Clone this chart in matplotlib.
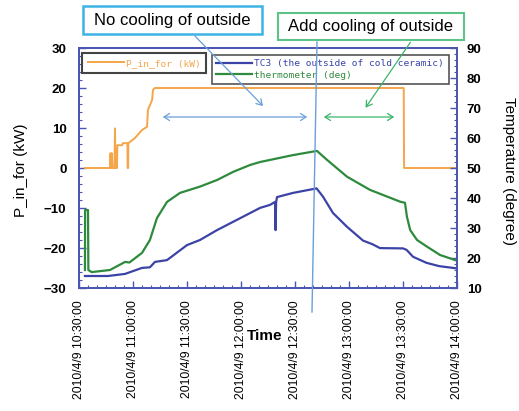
import matplotlib
matplotlib.use("Agg")
import matplotlib.pyplot as plt
import matplotlib.dates as mdates
from matplotlib.lines import Line2D
from matplotlib.patches import FancyArrowPatch, Rectangle
from matplotlib.ticker import MultipleLocator
from matplotlib.font_manager import FontProperties
import pandas as pd

# ---------------- data (minutes after 2010/4/9 10:30:00) ----------------
base_time = "2010-04-09 10:30:00"

p_min = [3.3, 17.2, 17.5, 17.8, 18.2, 18.6, 19.7, 20.0, 20.3, 20.8, 21.1, 21.3,
         24.0, 24.3, 26.9, 27.0, 27.3, 27.4, 31.1, 35.0, 37.8, 38.3, 40.6, 41.1,
         42.2, 180.4, 180.6, 209.0]
p_kw = [0, 0, 3.7, 0, 3.7, 0, 0, 9.9, 0, 3.0, 0, 5.7,
        5.7, 6.2, 6.2, 0, 0, 6.2, 7.5, 9.5, 10.3, 14.5, 17.0, 19.5,
        20.0, 20.0, 0, 0]

tc3_min = [3.3, 16.1, 25.6, 35.0, 39.4, 42.2, 48.9, 60.0, 67.2, 76.7, 100.6,
           106.1, 108.9, 109.2, 109.5, 110.0, 118.9, 132.0, 135.6, 141.1,
           148.9, 157.8, 163.0, 167.2, 180.0, 182.0, 185.6, 193.0, 200.0, 209.0]
tc3_deg = [14.0, 14.0, 14.7, 16.7, 16.9, 18.7, 19.3, 24.3, 26.0, 29.3, 36.7,
           37.7, 38.7, 29.3, 38.5, 40.3, 41.7, 43.2, 40.4, 35.0,
           30.4, 25.8, 24.6, 23.3, 23.2, 22.7, 20.4, 18.4, 17.3, 16.6]

thermo_min = [3.3, 3.4, 5.0, 5.2, 7.0, 17.2, 25.6, 28.0, 35.0, 39.4, 43.3,
              48.9, 56.1, 67.2, 76.7, 85.6, 95.0, 100.6, 118.9, 132.2, 137.8,
              148.9, 161.7, 178.3, 181.1, 182.2, 184.0, 187.8, 193.3, 200.6,
              209.0]
thermo_deg = [16.0, 36.0, 36.0, 16.0, 15.3, 16.0, 18.7, 18.5, 21.7, 26.0, 33.3,
              38.7, 41.7, 43.8, 46.0, 48.7, 51.0, 52.0, 54.3, 55.7, 52.7,
              47.1, 42.7, 38.8, 38.4, 33.7, 29.3, 26.0, 23.8, 21.0,
              19.3]

tick_labels = ["2010/4/9 10:30:00", "2010/4/9 11:00:00", "2010/4/9 11:30:00",
               "2010/4/9 12:00:00", "2010/4/9 12:30:00", "2010/4/9 13:00:00",
               "2010/4/9 13:30:00", "2010/4/9 14:00:00"]
tick_times = ["2010-04-09 10:30", "2010-04-09 11:00", "2010-04-09 11:30",
              "2010-04-09 12:00", "2010-04-09 12:30", "2010-04-09 13:00",
              "2010-04-09 13:30", "2010-04-09 14:00"]

legend_p = "P_in_for (kW)"
legend_tc3 = "TC3 (the outside of cold ceramic)"
legend_thermo = "thermometer (deg)"

# ---------------- style ----------------
W, H = 519, 411
def fx(x): return x / W
def fy(y): return 1 - y / H

c_orange = "#f5a54a"
c_blue = "#3b44a6"
c_green = "#2e8a3c"
c_spine = "#4a56b0"
c_callblue = "#6a9fd8"
c_callgreen = "#3cb46a"

plt.rcParams["font.family"] = ["Liberation Sans", "DejaVu Sans"]

t0 = pd.Timestamp(base_time)
def to_time(mins):
    return t0 + pd.to_timedelta(mins, unit="min")

fig = plt.figure(figsize=(W / 100, H / 100), dpi=100)
ax = fig.add_axes([fx(79), fy(288), 378 / W, 240 / H])
ax2 = ax.twinx()

ax.plot(to_time(p_min), p_kw, color=c_orange, lw=1.4, label=legend_p)
l_tc3, = ax2.plot(to_time(tc3_min), tc3_deg, color=c_blue, lw=1.6)
l_th, = ax2.plot(to_time(thermo_min), thermo_deg, color=c_green, lw=1.6)

ax.set_xlim(pd.Timestamp("2010-04-09 10:30"), pd.Timestamp("2010-04-09 14:00"))
ax.set_ylim(-30, 30)
ax2.set_ylim(10, 90)
ax.set_yticks([-30, -20, -10, 0, 10, 20, 30])
ax2.set_yticks([10, 20, 30, 40, 50, 60, 70, 80, 90])
ax.yaxis.set_minor_locator(MultipleLocator(2))
ax2.yaxis.set_minor_locator(MultipleLocator(2))
ax.set_xticks(pd.to_datetime(tick_times), tick_labels, rotation=90)
ax.xaxis.set_minor_locator(mdates.MinuteLocator(byminute=range(0, 60, 5)))

for a in (ax, ax2):
    for s in a.spines.values():
        s.set_color(c_spine)
        s.set_linewidth(1.3)
    a.tick_params(which="both", direction="in", color=c_spine)
    a.tick_params(which="major", length=5, width=1)
    a.tick_params(which="minor", length=2.5, width=0.8)

ax.tick_params(axis="y", pad=9, labelsize=9.5)
ax2.tick_params(axis="y", pad=7, labelsize=9.5)
ax.tick_params(axis="x", pad=9, labelsize=8.8)
for lab in ax.get_yticklabels() + ax2.get_yticklabels():
    lab.set_fontweight("bold")

# legends
mono = FontProperties(family="DejaVu Sans Mono", size=6.8)
leg1 = ax.legend(loc="upper left", bbox_to_anchor=(fx(82), fy(53)),
                 bbox_transform=fig.transFigure, prop=mono, labelcolor=[c_orange],
                 fancybox=False, edgecolor="#444444", framealpha=1,
                 borderaxespad=0, handlelength=3.8, handletextpad=0.25,
                 borderpad=0.6)
leg1.get_frame().set_linewidth(1.5)
leg2 = ax2.legend([l_tc3, l_th], [legend_tc3, legend_thermo], loc="upper left",
                  bbox_to_anchor=(fx(212), fy(55)), bbox_transform=fig.transFigure,
                  prop=mono, labelcolor=[c_blue, c_green], fancybox=False,
                  edgecolor="#555555", framealpha=1, borderaxespad=0,
                  handlelength=3.8, handletextpad=0.25, borderpad=0.45,
                  labelspacing=0.25)
leg2.get_frame().set_linewidth(1.2)

# axis labels
fig.text(fx(21), fy(170), "P_in_for (kW)", rotation=90, ha="center", va="center",
         fontsize=11)
fig.text(fx(509), fy(171), "Temperature (degree)", rotation=-90, ha="center",
         va="center", fontsize=11)
fig.text(fx(265), fy(336), "Time", ha="center", va="center", fontsize=11,
         fontweight="bold")

# callout boxes
fig.add_artist(Rectangle((fx(83), fy(34)), 179 / W, 28 / H, transform=fig.transFigure,
                         fill=True, facecolor="white", edgecolor="#3cb4e6", lw=1.8))
fig.text(fx(172), fy(20), "No cooling of outside", ha="center", va="center",
         fontsize=12)
fig.add_artist(Rectangle((fx(278), fy(40)), 186 / W, 27 / H, transform=fig.transFigure,
                         fill=True, facecolor="white", edgecolor="#5cc488", lw=1.5))
fig.text(fx(370), fy(26.5), "Add cooling of outside", ha="center", va="center",
         fontsize=12)

# annotation lines and arrows
fig.add_artist(Line2D([fx(317), fx(312)], [fy(42), fy(312)], transform=fig.transFigure,
                      color=c_callblue, lw=1.0))
fig.add_artist(FancyArrowPatch((fx(193), fy(34)), (fx(265), fy(108)),
                               transform=fig.transFigure, arrowstyle="->,head_length=4,head_width=2.5",
                               color=c_callblue, lw=0.9))
fig.add_artist(FancyArrowPatch((fx(412), fy(40)), (fx(364), fy(110)),
                               transform=fig.transFigure, arrowstyle="->,head_length=4,head_width=2.5",
                               color=c_callgreen, lw=0.9))
fig.add_artist(FancyArrowPatch((fx(160), fy(117)), (fx(310), fy(117)),
                               transform=fig.transFigure, arrowstyle="<->,head_length=4,head_width=2.5",
                               color=c_callblue, lw=0.9))
fig.add_artist(FancyArrowPatch((fx(321), fy(117)), (fx(397), fy(117)),
                               transform=fig.transFigure, arrowstyle="<->,head_length=4,head_width=2.5",
                               color=c_callgreen, lw=0.9))

fig.savefig("out.png", dpi=100)
